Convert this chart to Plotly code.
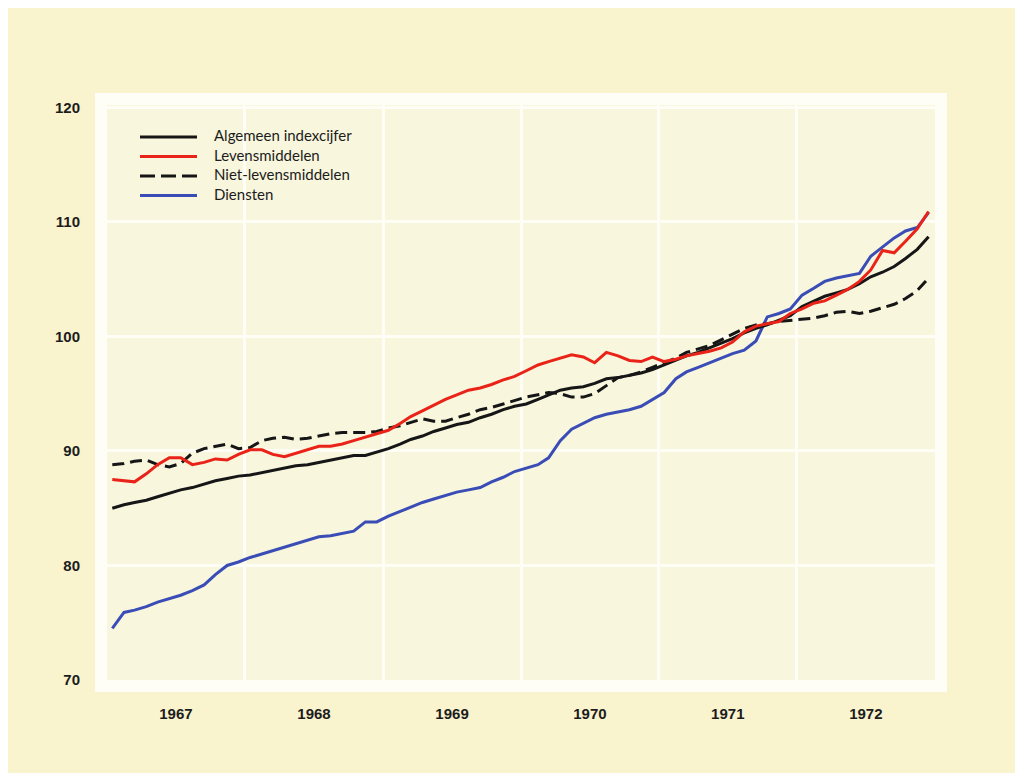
import pandas as pd
import plotly.graph_objects as go

# monthly index figures, jan 1967 - dec 1972
MONTHS = pd.date_range("1967-01-01", periods=72, freq="MS") + pd.Timedelta(days=14)

ALGEMEEN = [
    85.0, 85.3, 85.5, 85.7, 86.0, 86.3, 86.6, 86.8, 87.1, 87.4, 87.6, 87.8,
    87.9, 88.1, 88.3, 88.5, 88.7, 88.8, 89.0, 89.2, 89.4, 89.6, 89.6, 89.9,
    90.2, 90.6, 91.0, 91.3, 91.7, 92.0, 92.3, 92.5, 92.9, 93.2, 93.6, 93.9,
    94.1, 94.5, 94.9, 95.3, 95.5, 95.6, 95.9, 96.3, 96.4, 96.6, 96.8, 97.1,
    97.5, 97.9, 98.3, 98.6, 99.0, 99.4, 99.8, 100.3, 100.7, 101.0, 101.4, 101.8,
    102.6, 103.1, 103.5, 103.8, 104.1, 104.6, 105.2, 105.6, 106.1, 106.8, 107.6, 108.7,
]
LEVENSMIDDELEN = [
    87.5, 87.4, 87.3, 88.0, 88.8, 89.4, 89.4, 88.8, 89.0, 89.3, 89.2, 89.7,
    90.1, 90.1, 89.7, 89.5, 89.8, 90.1, 90.4, 90.4, 90.6, 90.9, 91.2, 91.5,
    91.8, 92.4, 93.0, 93.5, 94.0, 94.5, 94.9, 95.3, 95.5, 95.8, 96.2, 96.5,
    97.0, 97.5, 97.8, 98.1, 98.4, 98.2, 97.7, 98.6, 98.3, 97.9, 97.8, 98.2,
    97.8, 98.0, 98.3, 98.5, 98.7, 99.0, 99.5, 100.4, 100.9, 101.1, 101.3, 102.0,
    102.4, 102.9, 103.1, 103.6, 104.1, 104.8, 105.8, 107.5, 107.3, 108.3, 109.4, 110.9,
]
NIET_LEVENSMIDDELEN = [
    88.8, 88.9, 89.1, 89.2, 88.8, 88.6, 88.9, 89.8, 90.2, 90.4, 90.6, 90.2,
    90.3, 90.9, 91.1, 91.2, 91.0, 91.1, 91.3, 91.5, 91.6, 91.6, 91.6, 91.7,
    92.0, 92.2, 92.5, 92.8, 92.6, 92.6, 92.9, 93.2, 93.6, 93.8, 94.1, 94.4,
    94.7, 94.9, 95.1, 95.0, 94.7, 94.7, 95.0, 95.7, 96.4, 96.6, 96.9, 97.3,
    97.7, 98.1, 98.6, 98.9, 99.2, 99.7, 100.2, 100.7, 101.0, 101.1, 101.3, 101.4,
    101.5, 101.6, 101.8, 102.1, 102.2, 102.0, 102.2, 102.5, 102.8, 103.3, 104.0, 105.1,
]
DIENSTEN = [
    74.5, 75.9, 76.1, 76.4, 76.8, 77.1, 77.4, 77.8, 78.3, 79.2, 80.0, 80.3,
    80.7, 81.0, 81.3, 81.6, 81.9, 82.2, 82.5, 82.6, 82.8, 83.0, 83.8, 83.8,
    84.3, 84.7, 85.1, 85.5, 85.8, 86.1, 86.4, 86.6, 86.8, 87.3, 87.7, 88.2,
    88.5, 88.8, 89.4, 90.9, 91.9, 92.4, 92.9, 93.2, 93.4, 93.6, 93.9, 94.5,
    95.1, 96.3, 96.9, 97.3, 97.7, 98.1, 98.5, 98.8, 99.6, 101.7, 102.0, 102.4,
    103.6, 104.2, 104.8, 105.1, 105.3, 105.5, 107.0, 107.8, 108.6, 109.2, 109.5, 110.8,
]

NAMES = ["Algemeen indexcijfer", "Levensmiddelen", "Niet-levensmiddelen", "Diensten"]
VALUES = [ALGEMEEN, LEVENSMIDDELEN, NIET_LEVENSMIDDELEN, DIENSTEN]
COLORS = ["#161616", "#ea2318", "#161616", "#3a4db6"]
DASHES = ["solid", "solid", "12px,6px", "solid"]
LEGEND_DASHES = ["solid", "solid", "15px,6px", "solid"]
DRAW_ORDER = [3, 2, 0, 1]

PAPER = "#f9f3ce"
INNER = "#f8f6dd"
WHITE = "#fefdf6"
TICK_FONT = dict(family="Liberation Sans Narrow, Arial Narrow, sans-serif", size=15, color="#1c1c1c")

# the page puts the figure 8px in from the top left corner,
# so screen positions are shifted back by that amount
PAGE_OFFSET = 8
W, H = 1023, 773
L, R, T, B = 107 - PAGE_OFFSET, 935 - PAGE_OFFSET, 105 - PAGE_OFFSET, 680 - PAGE_OFFSET


def px(x):
    return (x - PAGE_OFFSET - L) / (R - L)


def py(y):
    return (B - (y - PAGE_OFFSET)) / (B - T)


fig = go.Figure()
for i in DRAW_ORDER:
    fig.add_trace(
        go.Scatter(
            x=MONTHS,
            y=VALUES[i],
            mode="lines",
            name=NAMES[i],
            line=dict(color=COLORS[i], width=3, dash=DASHES[i]),
            showlegend=False,
        )
    )

shapes = [
    dict(
        type="rect", xref="paper", yref="paper", layer="below",
        x0=px(107 - 6), x1=px(935 + 6), y0=py(680 + 6), y1=py(105 - 6),
        line=dict(color=WHITE, width=12),
    )
]
annotations = []
for i, name in enumerate(NAMES):
    y_px = 137 + i * 19.5
    shapes.append(
        dict(
            type="line", xref="paper", yref="paper",
            x0=px(140), x1=px(197), y0=py(y_px), y1=py(y_px),
            line=dict(color=COLORS[i], width=3, dash=LEGEND_DASHES[i]),
        )
    )
    annotations.append(
        dict(
            xref="paper", yref="paper", x=px(212), y=py(y_px - 2),
            text=name, showarrow=False, xanchor="left", yanchor="middle",
            font=dict(family="Lato, sans-serif", size=15, color="#1c1c1c"),
        )
    )

fig.update_layout(
    width=W,
    height=H,
    margin=dict(l=L, r=W - R, t=T, b=H - B),
    paper_bgcolor=PAPER,
    plot_bgcolor=INNER,
    shapes=shapes,
    annotations=annotations,
    showlegend=False,
    xaxis=dict(
        type="date",
        range=["1967-01-01", "1973-01-01"],
        tick0="1967-01-01",
        dtick="M12",
        tickformat="%Y",
        ticklabelmode="period",
        showgrid=True,
        gridcolor=WHITE,
        gridwidth=3,
        zeroline=False,
        showline=False,
        ticks="",
        ticklabelstandoff=23,
        tickfont=dict(TICK_FONT, weight="bold"),
    ),
    yaxis=dict(
        range=[70, 120.2],
        tick0=70,
        dtick=10,
        showgrid=True,
        gridcolor=WHITE,
        gridwidth=3,
        zeroline=False,
        ticks="",
        ticklabelstandoff=26,
        tickfont=dict(TICK_FONT, weight="bold"),
    ),
    yaxis2=dict(
        range=[70, 120.2],
        tick0=70,
        dtick=10,
        overlaying="y",
        side="right",
        showgrid=False,
        zeroline=False,
        ticks="",
        ticklabelstandoff=20,
        tickfont=dict(TICK_FONT, weight="bold"),
    ),
)

fig.write_html("out.html")
